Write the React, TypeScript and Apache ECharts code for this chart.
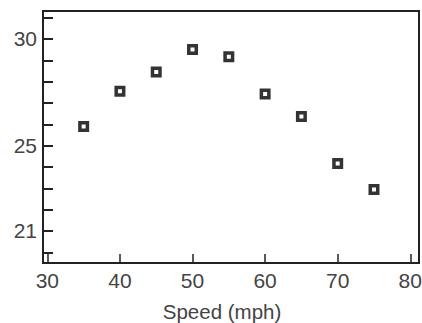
import React, { useEffect, useRef } from "react";
import * as echarts from "echarts";

const speeds = [35, 40, 45, 50, 55, 60, 65, 70, 75];
const mpg = [25.9, 27.55, 28.45, 29.5, 29.17, 27.42, 26.36, 24.16, 22.94];
const xTicks = [30, 40, 50, 60, 70, 80];
const yTicks = [20, 21, 22, 23, 24, 25, 26, 27, 28, 29, 30, 31];
const yLabels = [21, 25, 30];
const xTitle = "Speed (mph)";

export default function App() {
  const ref = useRef<HTMLDivElement>(null);
  useEffect(() => {
    if (!ref.current) return;
    const chart = echarts.init(ref.current, null, { renderer: "svg" });
    const font = "'Liberation Sans', Arial, sans-serif";
    chart.setOption({
      animation: false,
      backgroundColor: "#fff",
      grid: {
        left: 43,
        top: 11,
        right: 3,
        bottom: 60,
        containLabel: false,
        outerBoundsMode: "none",
        show: true,
        borderColor: "#222",
        borderWidth: 2,
        backgroundColor: "transparent",
      },
      xAxis: {
        type: "value",
        min: 29.4,
        max: 81.2,
        name: xTitle,
        nameLocation: "middle",
        nameGap: 38,
        nameTextStyle: { color: "#444", fontSize: 20.5, fontFamily: font, padding: [0, 18, 0, 0] },
        splitLine: { show: false },
        axisLine: { show: true, lineStyle: { color: "#222", width: 2 } },
        axisTick: {
          show: true,
          inside: true,
          length: 9,
          customValues: xTicks,
          lineStyle: { color: "#222", width: 1.5 },
        },
        axisLabel: {
          customValues: xTicks,
          color: "#444",
          fontSize: 21,
          fontFamily: font,
          margin: 7,
        },
      },
      yAxis: {
        type: "value",
        min: 19.5,
        max: 31.31,
        splitLine: { show: false },
        axisLine: { show: true, lineStyle: { color: "#222", width: 2 } },
        axisTick: {
          show: true,
          inside: true,
          length: 10,
          customValues: yTicks,
          lineStyle: { color: "#222", width: 2 },
        },
        axisLabel: {
          customValues: yLabels,
          color: "#444",
          fontSize: 21,
          fontFamily: font,
          margin: 6,
        },
      },
      series: [
        {
          type: "scatter",
          data: speeds.map((s, i) => [s, mpg[i]]),
          symbol: "rect",
          symbolSize: 7.5,
          itemStyle: { color: "#fff", borderColor: "#000", borderWidth: 3.5 },
        },
      ],
    });
    return () => chart.dispose();
  }, []);
  return (
    <div
      ref={ref}
      style={{ position: "absolute", left: 0, top: 0, width: 422, height: 323 }}
    />
  );
}
